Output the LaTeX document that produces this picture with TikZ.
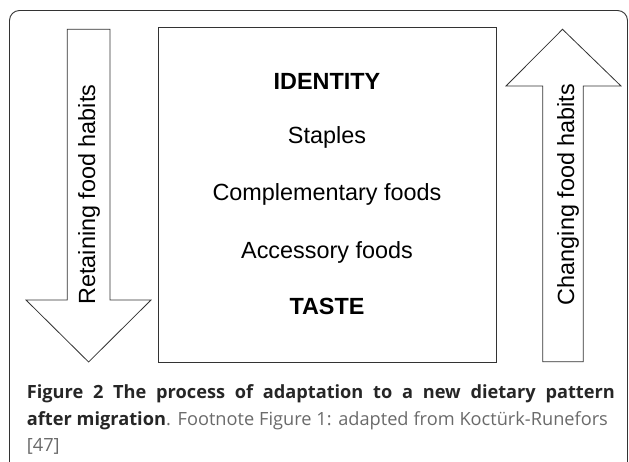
\documentclass[tikz,border=0pt]{standalone}
\usepackage{fontspec}
\setmainfont{Liberation Sans}
\newfontfamily\capfont{Open Sans}
\definecolor{linegray}{HTML}{333333}
\definecolor{capdark}{HTML}{262626}
\definecolor{capgray}{HTML}{6A6A6A}
\begin{document}
\begin{tikzpicture}[x=1pt,y=-1pt,
  frame/.style={draw=linegray,line width=0.9pt,rounded corners=10pt},
  outlineshape/.style={draw=linegray,line width=0.8pt,fill=white},
  lbl/.style={inner sep=0pt,text=black,font=\fontsize{23.4}{28}\selectfont},
  caplbl/.style={inner sep=0pt,font=\capfont\fontsize{18.2}{22}\selectfont}]
\useasboundingbox (0,0) rectangle (629,462);
\begin{scope}
\clip (0,0) rectangle (629,462);
\draw[frame] (9.5,10.5) rectangle (627.5,490);
\end{scope}
% left arrow (down)
\draw[outlineshape] (67.3,29.3) -- (110,29.3) -- (110,300) -- (151,300) -- (88.6,362) -- (26,300) -- (67.3,300) -- cycle;
% central box
\draw[outlineshape] (158,27) rectangle (496,362);
% right arrow (up)
\draw[outlineshape] (542.7,361.7) -- (542.7,86) -- (506,86) -- (562.5,29.3) -- (621,86) -- (583.3,86) -- (583.3,361.7) -- cycle;
% texts
\node[lbl,anchor=base,font=\fontsize{23.4}{28}\selectfont\bfseries] (identity) at (327,89.3) {IDENTITY};
\node[lbl,anchor=base] (staples) at (327,144) {Staples};
\node[lbl,anchor=base] (compl) at (327,200.7) {Complementary foods};
\node[lbl,anchor=base] (access) at (327,258.3) {Accessory foods};
\node[lbl,anchor=base,font=\fontsize{23.4}{28}\selectfont\bfseries] (taste) at (327,315) {TASTE};
\node[lbl,anchor=base,rotate=90] (retain) at (95,194.5) {Retaining food habits};
\node[lbl,anchor=base,rotate=90] (change) at (574,194.5) {Changing food habits};
% caption
\node[caplbl,anchor=base west,text=capdark] (cap1) at (26.7,398.7)
  {\makebox[588pt][s]{\bfseries Figure 2 The process of adaptation to a new dietary pattern}};
\node[caplbl,anchor=base west,text=capgray] (cap2) at (26.7,425.3)
  {\makebox[581pt][s]{\textcolor{capdark}{\bfseries after migration}. Footnote Figure 1: adapted from Koctürk-Runefors}};
\node[caplbl,anchor=base west,text=capgray] (cap3) at (26.7,451) {[47]};
\end{tikzpicture}
\end{document}
